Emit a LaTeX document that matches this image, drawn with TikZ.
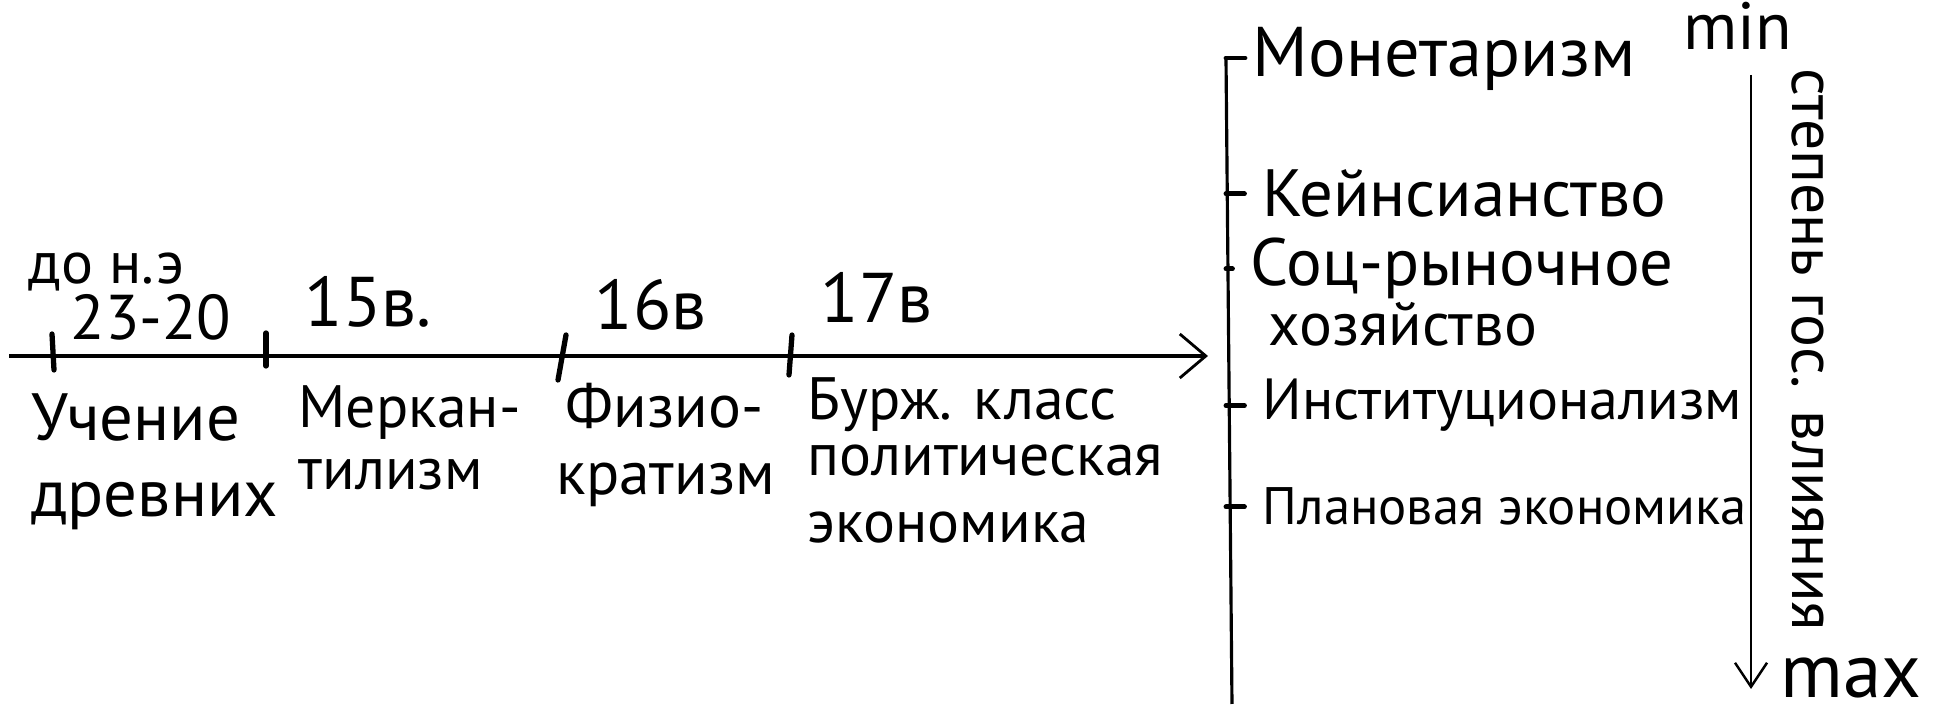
\documentclass[tikz,border=0pt]{standalone}
\usepackage{fontspec}
\setmainfont{PT Sans}
\usetikzlibrary{arrows.meta}
\newcommand{\hsz}[1]{\fontsize{#1}{#1}\selectfont}

\begin{document}
\begin{tikzpicture}[
    x=0.01cm, y=-0.01cm,
    hand/.style={inner sep=0pt, anchor=base west, font=\hsz{18}},
    axisLine/.style={line width=0.9pt, -{Straight Barb[length=2.6mm, width=4.4mm, line width=0.8pt]}},
    gradArrow/.style={line width=0.8pt, -{Straight Barb[length=2.4mm, width=3.2mm, line width=0.7pt]}},
    frameLine/.style={line width=0.9pt},
    tickMark/.style={line width=1.5pt, line cap=round},
    hook/.style={line width=1.4pt, line cap=round, shorten >=5pt}
]
    \useasboundingbox (0,0) rectangle (1947,719);

    \coordinate (axStart) at (9,356);
    \coordinate (axEnd) at (1208,356);
    \draw[axisLine] (axStart) -- (axEnd);
    \foreach \xa/\ya/\xb/\yb in {52/334/54/370, 266/333/266/366, 566/335/558/380, 792/335/789/375}
        \draw[tickMark] (\xa,\ya) -- (\xb,\yb);

    \node[hand, font=\hsz{17}] (bcEra) at (28,284) {до н.э};
    \node[hand] (bcYears) at (70,340) {23-20};
    \node[hand, font=\hsz{20}] (cent15) at (304,327) {15в.};
    \node[hand, font=\hsz{20}] (cent16) at (594,330) {16в};
    \node[hand, font=\hsz{20}] (cent17) at (820,323) {17в};

    \node[hand, font=\hsz{19}] (ancientA) at (31,441) {Учение};
    \node[hand, font=\hsz{19}] (ancientB) at (31,517) {древних};
    \node[hand, font=\hsz{17}] (mercA) at (298,428) {Меркан-};
    \node[hand, font=\hsz{17}] (mercB) at (298,490) {тилизм};
    \node[hand, font=\hsz{17.5}] (physA) at (565,428) {Физио-};
    \node[hand, font=\hsz{17.5}] (physB) at (556,495) {кратизм};
    \node[hand, font=\hsz{17}] (classA) at (807,420) {Бурж. класс};
    \node[hand, font=\hsz{17}] (classB) at (807,476) {политическая};
    \node[hand, font=\hsz{17}] (classC) at (807,543) {экономика};

    \coordinate (schoolTop) at (1226,58);
    \coordinate (schoolBot) at (1232,704);
    \draw[frameLine] (schoolTop) -- (schoolBot);

    \node[hand, font=\hsz{20}] (monet) at (1252,77) {Монетаризм};
    \node[hand, font=\hsz{19}] (keynes) at (1262,217) {Кейнсианство};
    \node[hand, font=\hsz{19}] (socA) at (1250,286) {Соц-рыночное};
    \node[hand, font=\hsz{17.5}] (socB) at (1268,346) {хозяйство};
    \node[hand, font=\hsz{16.5}] (instit) at (1262,420) {Институционализм};
    \node[hand, font=\hsz{15}] (planned) at (1262,525) {Плановая экономика};

    \draw[hook, shorten >=2pt] (schoolTop) -- (monet.west |- schoolTop);
    \foreach \n in {keynes, socA, instit, planned}
        \draw[hook] (\n.west -| schoolTop) -- (\n.west);

    \node[hand, font=\hsz{19}] (minLbl) at (1683,50) {min};
    \node[hand, font=\hsz{22}] (maxLbl) at (1780,698) {max};
    \coordinate (gradTop) at (1751,75);
    \coordinate (gradBot) at (1751,689);
    \draw[gradArrow] (gradTop) -- (gradBot);
    \node[hand, font=\hsz{17.5}, rotate=-90, anchor=center] (degree) at (1808,350) {степень гос. влияния};
\end{tikzpicture}
\end{document}
